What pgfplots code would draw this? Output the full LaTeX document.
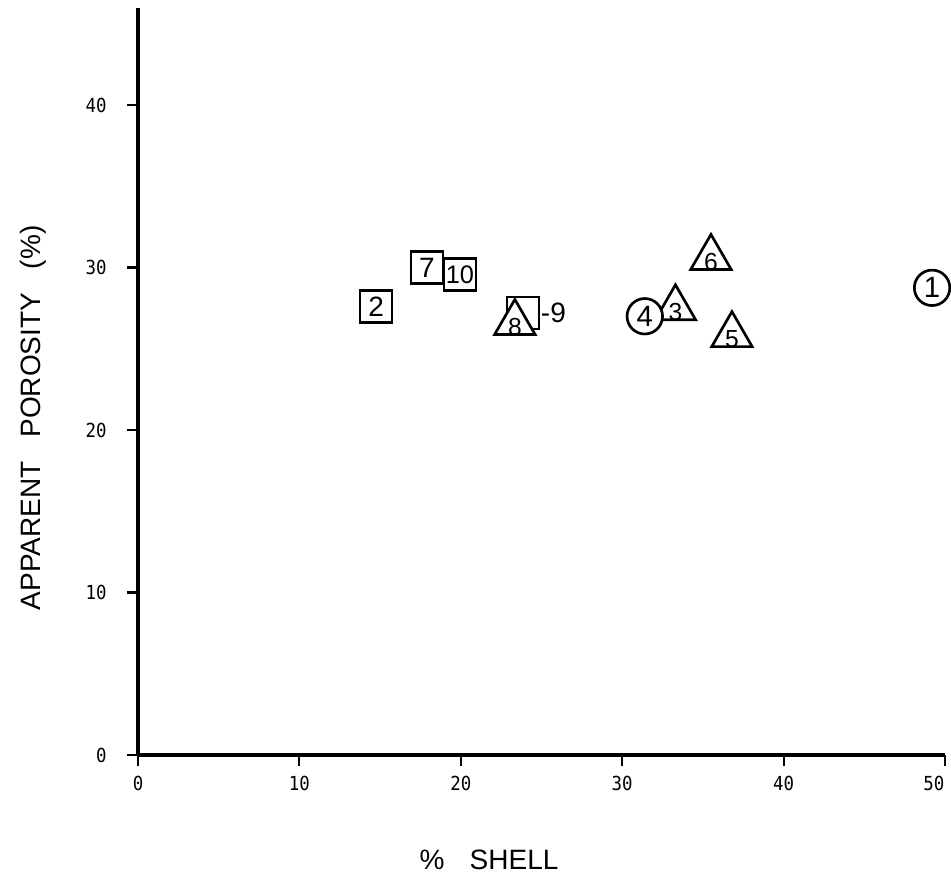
\documentclass[border=0pt]{standalone}
\usepackage{pgfplots}
\pgfplotsset{compat=1.18}
\usepackage{fontspec}
\setmainfont{Liberation Sans}
\newfontfamily\tickfont[FakeStretch=0.9]{DejaVu Sans Mono}
\begin{document}
\begin{tikzpicture}
\useasboundingbox (-103.5pt,-100.5pt) rectangle (609.75pt,566.25pt);
\begin{axis}[
  at={(0,0)}, anchor=south west,
  scale only axis,
  width=605.25pt, height=560.6pt,
  xmin=0, xmax=50, ymin=0, ymax=46,
  axis x line=bottom, axis y line=left,
  axis line style={-, line width=2.6pt},
  xtick={0,10,...,40}, ytick={0,10,...,40},
  extra x ticks={50},
  extra x tick style={xticklabel style={anchor=north east, xshift=3pt}},
  tick align=outside,
  major tick length=8pt,
  tick style={line width=1.6pt, black},
  ticklabel style={font=\tickfont\fontsize{14.5}{14.5}\selectfont},
  /pgf/number format/assume math mode=true,
  xticklabel style={yshift=-4pt},
  yticklabel style={xshift=-12pt},
  xlabel={\%\hspace{0.9em}SHELL},
  ylabel={APPARENT\hspace{0.85em}POROSITY\hspace{0.85em}(\%)},
  label style={font=\fontsize{21}{21}\selectfont},
  xlabel style={at={(axis description cs:0.435,-0.1405)}, anchor=center},
  ylabel style={at={(axis description cs:-0.13,0.451)}, anchor=center},
  clip=false,
  nodes near coords,
  point meta=explicit symbolic,
  nodes near coords align=center,
  every node near coord/.append style={anchor=center, inner sep=0pt, font=\fontsize{21}{21}\selectfont},
]
% squares
\addplot[only marks, mark=square*, mark size=12pt,
  mark options={draw=black, fill=white, line width=2pt}]
  coordinates {(14.75,27.6)[2] (17.9,30.0)[7]};
\addplot[only marks, mark=square*, mark size=12pt,
  mark options={draw=black, fill=white, line width=2pt},
  every node near coord/.append style={font=\fontsize{19}{19}\selectfont}]
  coordinates {(19.95,29.55)[10]};
\addplot[only marks, mark=square*, mark size=12pt,
  mark options={draw=black, fill=white, line width=2pt},
  every node near coord/.append style={anchor=west, xshift=12.5pt}]
  coordinates {(23.85,27.2)[-9]};
% triangles
\addplot[only marks, mark=triangle*, mark size=17.5pt,
  mark options={draw=black, fill=white, line width=2pt},
  every node near coord/.append style={yshift=-3pt, font=\fontsize{18.5}{18.5}\selectfont}]
  coordinates {(23.35,26.6)[8] (33.3,27.5)[3] (35.5,30.6)[6] (36.8,25.85)[5]};
% circles
\addplot[only marks, mark=*, mark size=13.3pt,
  mark options={draw=black, fill=white, line width=2pt},
  every node near coord/.append style={font=\fontsize{22}{22}\selectfont}]
  coordinates {(31.4,27.0)[4] (49.2,28.75)[1]};
\end{axis}
\end{tikzpicture}
\end{document}
